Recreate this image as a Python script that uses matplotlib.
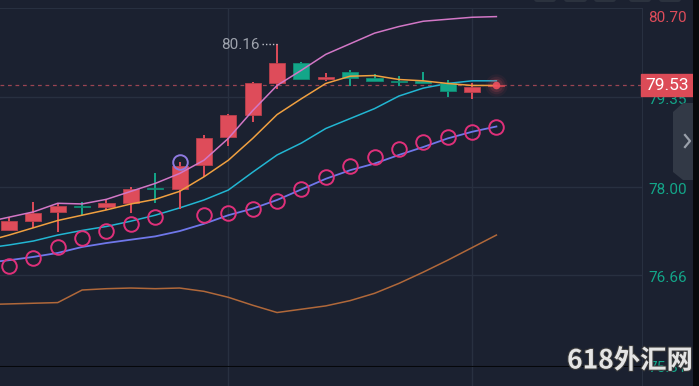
import numpy as np
import matplotlib
matplotlib.use("Agg")
import matplotlib.pyplot as plt
from matplotlib import transforms
from matplotlib.patches import Rectangle, Polygon, FancyBboxPatch
import matplotlib.patheffects as pe

plt.rcParams['font.family'] = ['Roboto', 'DejaVu Sans']

# candles (red = up, green = down)
opens = [77.35, 77.48, 77.62, 77.71, 77.69, 77.75, 77.98, 77.97, 78.33, 78.75, 79.09,
         79.56, 79.87, 79.62, 79.74, 79.65, 79.60, 79.59, 79.57, 79.43, 79.52]
highs = [77.54, 77.77, 77.75, 77.77, 77.81, 77.99, 78.20, 78.37, 78.78, 79.10, 79.58,
         80.16, 79.89, 79.72, 79.76, 79.71, 79.67, 79.74, 79.61, 79.57, 79.54]
lows = [77.34, 77.37, 77.32, 77.57, 77.65, 77.60, 77.75, 77.66, 78.15, 78.61, 78.98,
        79.48, 79.62, 79.59, 79.52, 79.59, 79.52, 79.56, 79.35, 79.32, 79.52]
closes = [77.48, 77.60, 77.71, 77.69, 77.75, 77.96, 77.96, 78.32, 78.74, 79.08, 79.56,
          79.87, 79.63, 79.66, 79.65, 79.60, 79.58, 79.57, 79.45, 79.50, 79.53]

# indicator lines, first value is the bar before the visible window
ma_pink = [77.46, 77.54, 77.62, 77.75, 77.74, 77.81, 77.93, 78.05, 78.20, 78.40, 78.73,
           79.15, 79.53, 79.76, 80.00, 80.16, 80.32, 80.42, 80.50, 80.53, 80.56, 80.57]
ma_orange = [77.17, 77.27, 77.38, 77.49, 77.57, 77.65, 77.74, 77.81, 77.93, 78.15, 78.40,
             78.73, 79.09, 79.33, 79.56, 79.67, 79.68, 79.62, 79.60, 79.56, 79.53, 79.53]
ma_cyan = [77.07, 77.12, 77.18, 77.27, 77.34, 77.40, 77.48, 77.57, 77.68, 77.80, 77.95,
           78.22, 78.48, 78.66, 78.88, 79.03, 79.18, 79.37, 79.49, 79.56, 79.60, 79.60]
ma_blue = [76.85, 76.89, 76.94, 77.00, 77.09, 77.15, 77.20, 77.25, 77.33, 77.44, 77.57,
           77.67, 77.80, 77.96, 78.12, 78.25, 78.35, 78.48, 78.60, 78.73, 78.83, 78.91]
ma_brown = [76.22, 76.23, 76.24, 76.25, 76.44, 76.46, 76.47, 76.46, 76.47, 76.42, 76.33,
            76.21, 76.10, 76.15, 76.20, 76.28, 76.39, 76.54, 76.71, 76.89, 77.08, 77.27]

sar = [76.81, 76.93, 77.09, 77.23, 77.33, 77.43, 77.54, np.nan, 77.58, 77.61, 77.66,
       77.78, 77.97, 78.15, 78.31, 78.45, 78.57, 78.67, 78.75, 78.83, 78.90]
sar_flip_idx = 7
sar_flip_val = 78.37

y_ticks = [75.31, 76.66, 78.00, 79.35, 80.70]
y_tick_labels = ['75.31', '76.66', '78.00', '79.35', '80.70']
grid_idx = [9, 19]
last_price = 79.53
top_high_idx = 11

BG = '#1b2130'
GRID = '#283040'
RED = '#de4c5a'
GREEN = '#13a689'

W, H = 699, 386
fig = plt.figure(figsize=(W / 100, H / 100), dpi=100, facecolor=BG)

ax = fig.add_axes([0, 19 / H, 642 / W, 359 / H])
ax.set_facecolor(BG)
ax.set_xlim(-0.369, 25.975)
ax.set_ylim(75.277, 80.70)
ax.set_xticks([])
ax.set_yticks([])
for s in ['left']:
    ax.spines[s].set_visible(False)
ax.spines['top'].set_color(GRID)
ax.spines['right'].set_color(GRID)
ax.spines['bottom'].set_color('#05070a')
ax.spines['bottom'].set_linewidth(1.5)

for v in y_ticks[1:4]:
    ax.axhline(v, color=GRID, lw=1.0, zorder=0)
for g in grid_idx:
    ax.axvline(g, color=GRID, lw=1.0, zorder=0)

n = len(opens)
x = np.arange(n)
xl = np.arange(-1, n)

# lines
ax.plot(xl, ma_brown, color='#b0683a', lw=1.1, zorder=2)
ax.plot(xl, ma_blue, color='#6f77ea', lw=1.3, zorder=2)
ax.plot(xl, ma_cyan, color='#22b6d2', lw=1.1, zorder=2)
ax.plot(xl, ma_orange, color='#f0a040', lw=1.1, zorder=4)
ax.plot(xl, ma_pink, color='#d277c6', lw=1.1, zorder=4)

# candles
for i in range(n):
    o, h, l, c = opens[i], highs[i], lows[i], closes[i]
    col = RED if c >= o else GREEN
    ax.vlines(i, l, h, color=col, lw=1.4, zorder=3)
    bot = min(o, c)
    hgt = max(abs(c - o), 0.022)
    ax.bar(i, hgt, bottom=bot, width=0.66, color=col, edgecolor='#b8404c' if col == RED else '#0f8c73',
           lw=0.6, zorder=3)

# parabolic sar
ax.plot(x, sar, 'o', ms=10.5, mfc='none', mec='#e0307a', mew=1.4, zorder=5)
ax.plot([sar_flip_idx], [sar_flip_val], 'o', ms=10.5, mfc='none', mec='#8f7ae0', mew=1.4, zorder=5)

# high label
ax.text(top_high_idx - 0.72, highs[top_high_idx] - 0.02, '80.16', color='#9ea3ad', fontsize=11,
        ha='right', va='center', zorder=6)
ax.plot([top_high_idx - 0.6, top_high_idx], [highs[top_high_idx]] * 2, color='#c0c4cc',
        lw=1.0, ls=(0, (1, 1.5)), zorder=6)

# last price line and glow
ax.axhline(last_price, color='#9a4452', lw=0.9, ls=(0, (3, 3)), zorder=1)
for s, a in [(260, 0.06), (160, 0.1), (90, 0.15), (30, 0.9)]:
    ax.scatter([n - 1], [last_price], s=s, color='#f0505e', alpha=a, lw=0, zorder=7)

# right axis labels
blend = transforms.blended_transform_factory(fig.transFigure, ax.transData)
for v, lab in zip(y_ticks, y_tick_labels):
    col = RED if v == y_ticks[-1] else GREEN
    off = -10 if v == y_ticks[-1] else -3
    ax.annotate(lab, xy=(648 / W, v), xycoords=blend, xytext=(0, off), textcoords='offset pixels',
                color=col, fontsize=11, ha='left', va='center', annotation_clip=False, zorder=8)

box_h = 22 * (80.70 - 75.277) / 359
ax.add_patch(Rectangle((641 / W, last_price - box_h / 2), 52 / W, box_h, transform=blend,
                       color='#dc4b57', clip_on=False, zorder=9))
ax.text(667 / W, last_price, '79.53', transform=blend, color='white', fontsize=12.5,
        ha='center', va='center', zorder=10, clip_on=False)

# strip below main pane
ax2 = fig.add_axes([0, 0, 642 / W, 19 / H])
ax2.set_facecolor(BG)
ax2.set_xlim(ax.get_xlim())
ax2.set_xticks([])
ax2.set_yticks([])
for s in ['left', 'top', 'bottom']:
    ax2.spines[s].set_visible(False)
ax2.spines['right'].set_color(GRID)
for g in grid_idx:
    ax2.axvline(g, color=GRID, lw=1.0)

# overlay in pixel coordinates
ov = fig.add_axes([0, 0, 1, 1])
ov.set_xlim(0, W)
ov.set_ylim(H, 0)
ov.axis('off')
ov.patch.set_alpha(0)
for bx, bw in [(534, 22), (564, 23), (594, 22), (629, 22), (659, 22)]:
    ov.add_patch(FancyBboxPatch((bx, -8), bw, 10, boxstyle='round,pad=0,rounding_size=3',
                                color='#2b323e', lw=0))
ov.add_patch(Polygon([(673, 112), (683, 103), (693, 103), (693, 180), (683, 180), (673, 172)],
                     closed=True, color='#323946', lw=0))
ov.plot([685, 690, 685], [135, 141, 147], color='#9aa0aa', lw=1.6)
ov.add_patch(Rectangle((693, 0), 6, H, color='#07090c', lw=0))
ov.text(630, 361, '618外汇网', ha='center', va='center', fontsize=19, fontweight='bold',
        family=['Noto Sans CJK SC', 'DejaVu Sans'], color='#e4e4e4',
        path_effects=[pe.withStroke(linewidth=1.5, foreground='#3a3a3a')])

fig.savefig('out.png', dpi=100, facecolor=BG)
